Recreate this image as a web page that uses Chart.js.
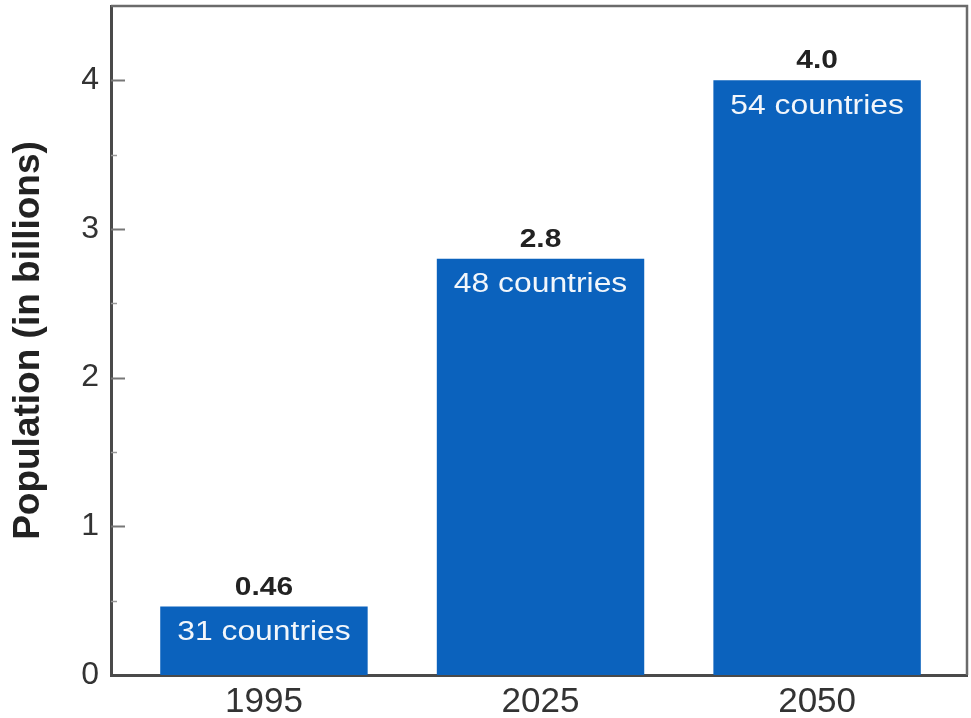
<!DOCTYPE html>
<html>
<head>
<meta charset="utf-8">
<script src="https://cdn.jsdelivr.net/npm/chart.js@4.4.1/dist/chart.umd.min.js"></script>
<style>
  body { margin: 0; background: #fff; }
  #wrap { width: 971px; height: 718px; }
</style>
</head>
<body>
<div id="wrap"><canvas id="popChart" width="971" height="718"></canvas></div>
<script>
// chart data
const years = ['1995', '2025', '2050'];
const population = [0.46, 2.8, 4.0];
const valueLabels = ['0.46', '2.8', '4.0'];
const countryLabels = ['31 countries', '48 countries', '54 countries'];
const yTicks = [0, 1, 2, 3, 4];

const barColor = '#0b62bd';
const fontFamily = '"Liberation Sans", Arial, Helvetica, sans-serif';

// text a bit wider than the font, like the scanned original
function wideText(ctx, text, x, y, stretch) {
  ctx.save();
  ctx.translate(x, y);
  ctx.scale(stretch, 1);
  ctx.fillText(text, 0, 0);
  ctx.restore();
}

// frame, inner tick marks and bar labels
const decorPlugin = {
  id: 'decor',
  afterDraw(chart) {
    const ctx = chart.ctx;
    const area = chart.chartArea;
    const y = chart.scales.y;

    ctx.save();
    // top and right frame
    ctx.strokeStyle = '#6b6b6b';
    ctx.lineWidth = 2.5;
    ctx.beginPath();
    ctx.moveTo(area.left, area.top);
    ctx.lineTo(area.right, area.top);
    ctx.lineTo(area.right, area.bottom);
    ctx.stroke();

    // tick marks pointing into the plot
    for (let v = 0.5; v <= 4; v += 0.5) {
      const py = Math.round(y.getPixelForValue(v)) + 0.5;
      const major = v % 1 === 0;
      ctx.strokeStyle = major ? '#777' : '#999';
      ctx.lineWidth = major ? 2 : 1.5;
      ctx.beginPath();
      ctx.moveTo(area.left, py);
      ctx.lineTo(area.left + (major ? 14 : 6), py);
      ctx.stroke();
    }

    // labels on the bars
    const meta = chart.getDatasetMeta(0);
    ctx.textAlign = 'center';
    meta.data.forEach((bar, i) => {
      ctx.fillStyle = '#222';
      ctx.font = 'bold 26px ' + fontFamily;
      ctx.textBaseline = 'alphabetic';
      wideText(ctx, valueLabels[i], bar.x, bar.y - 12, 1.15);

      ctx.fillStyle = '#f2f6fb';
      ctx.font = '27px ' + fontFamily;
      ctx.textBaseline = 'middle';
      wideText(ctx, countryLabels[i], bar.x, bar.y + 26, 1.18);
    });
    ctx.restore();
  }
};

new Chart(document.getElementById('popChart'), {
  type: 'bar',
  data: {
    datasets: [{
      data: population.map((v, i) => ({ x: i, y: v })),
      backgroundColor: barColor,
      borderWidth: 0,
      barPercentage: 1,
      categoryPercentage: 0.75
    }]
  },
  options: {
    responsive: false,
    animation: false,
    devicePixelRatio: 1,
    layout: { padding: { top: 6, right: 4, left: 0, bottom: 0 } },
    plugins: {
      legend: { display: false },
      tooltip: { enabled: false }
    },
    scales: {
      x: {
        type: 'linear',
        offset: false,
        min: -0.553,
        max: 2.542,
        grid: { display: false, drawTicks: false },
        border: { display: true, color: '#4a4a4a', width: 3 },
        afterBuildTicks: (scale) => {
          scale.ticks = years.map((_, i) => ({ value: i }));
        },
        afterFit: (scale) => {
          scale.height = 43;
          scale.paddingLeft = 0;
          scale.paddingRight = 0;
        },
        ticks: {
          padding: 6,
          color: '#333',
          font: { family: fontFamily, size: 35 },
          callback: (v) => years[v] ?? ''
        }
      },
      y: {
        min: 0,
        max: 4.5,
        grid: { display: false, drawTicks: false },
        border: { display: true, color: '#4a4a4a', width: 3 },
        afterBuildTicks: (scale) => {
          scale.ticks = yTicks.map(v => ({ value: v }));
        },
        afterFit: (scale) => {
          scale.width = 111;
          scale.paddingTop = 0;
          scale.paddingBottom = 0;
        },
        ticks: {
          padding: 12,
          color: '#333',
          font: { family: fontFamily, size: 32 },
          callback: (v) => String(v)
        },
        title: {
          display: true,
          text: 'Population (in billions)',
          color: '#222',
          padding: { top: 7, bottom: 0 },
          font: { family: fontFamily, size: 37, weight: 'bold' }
        }
      }
    }
  },
  plugins: [decorPlugin]
});
</script>
</body>
</html>
